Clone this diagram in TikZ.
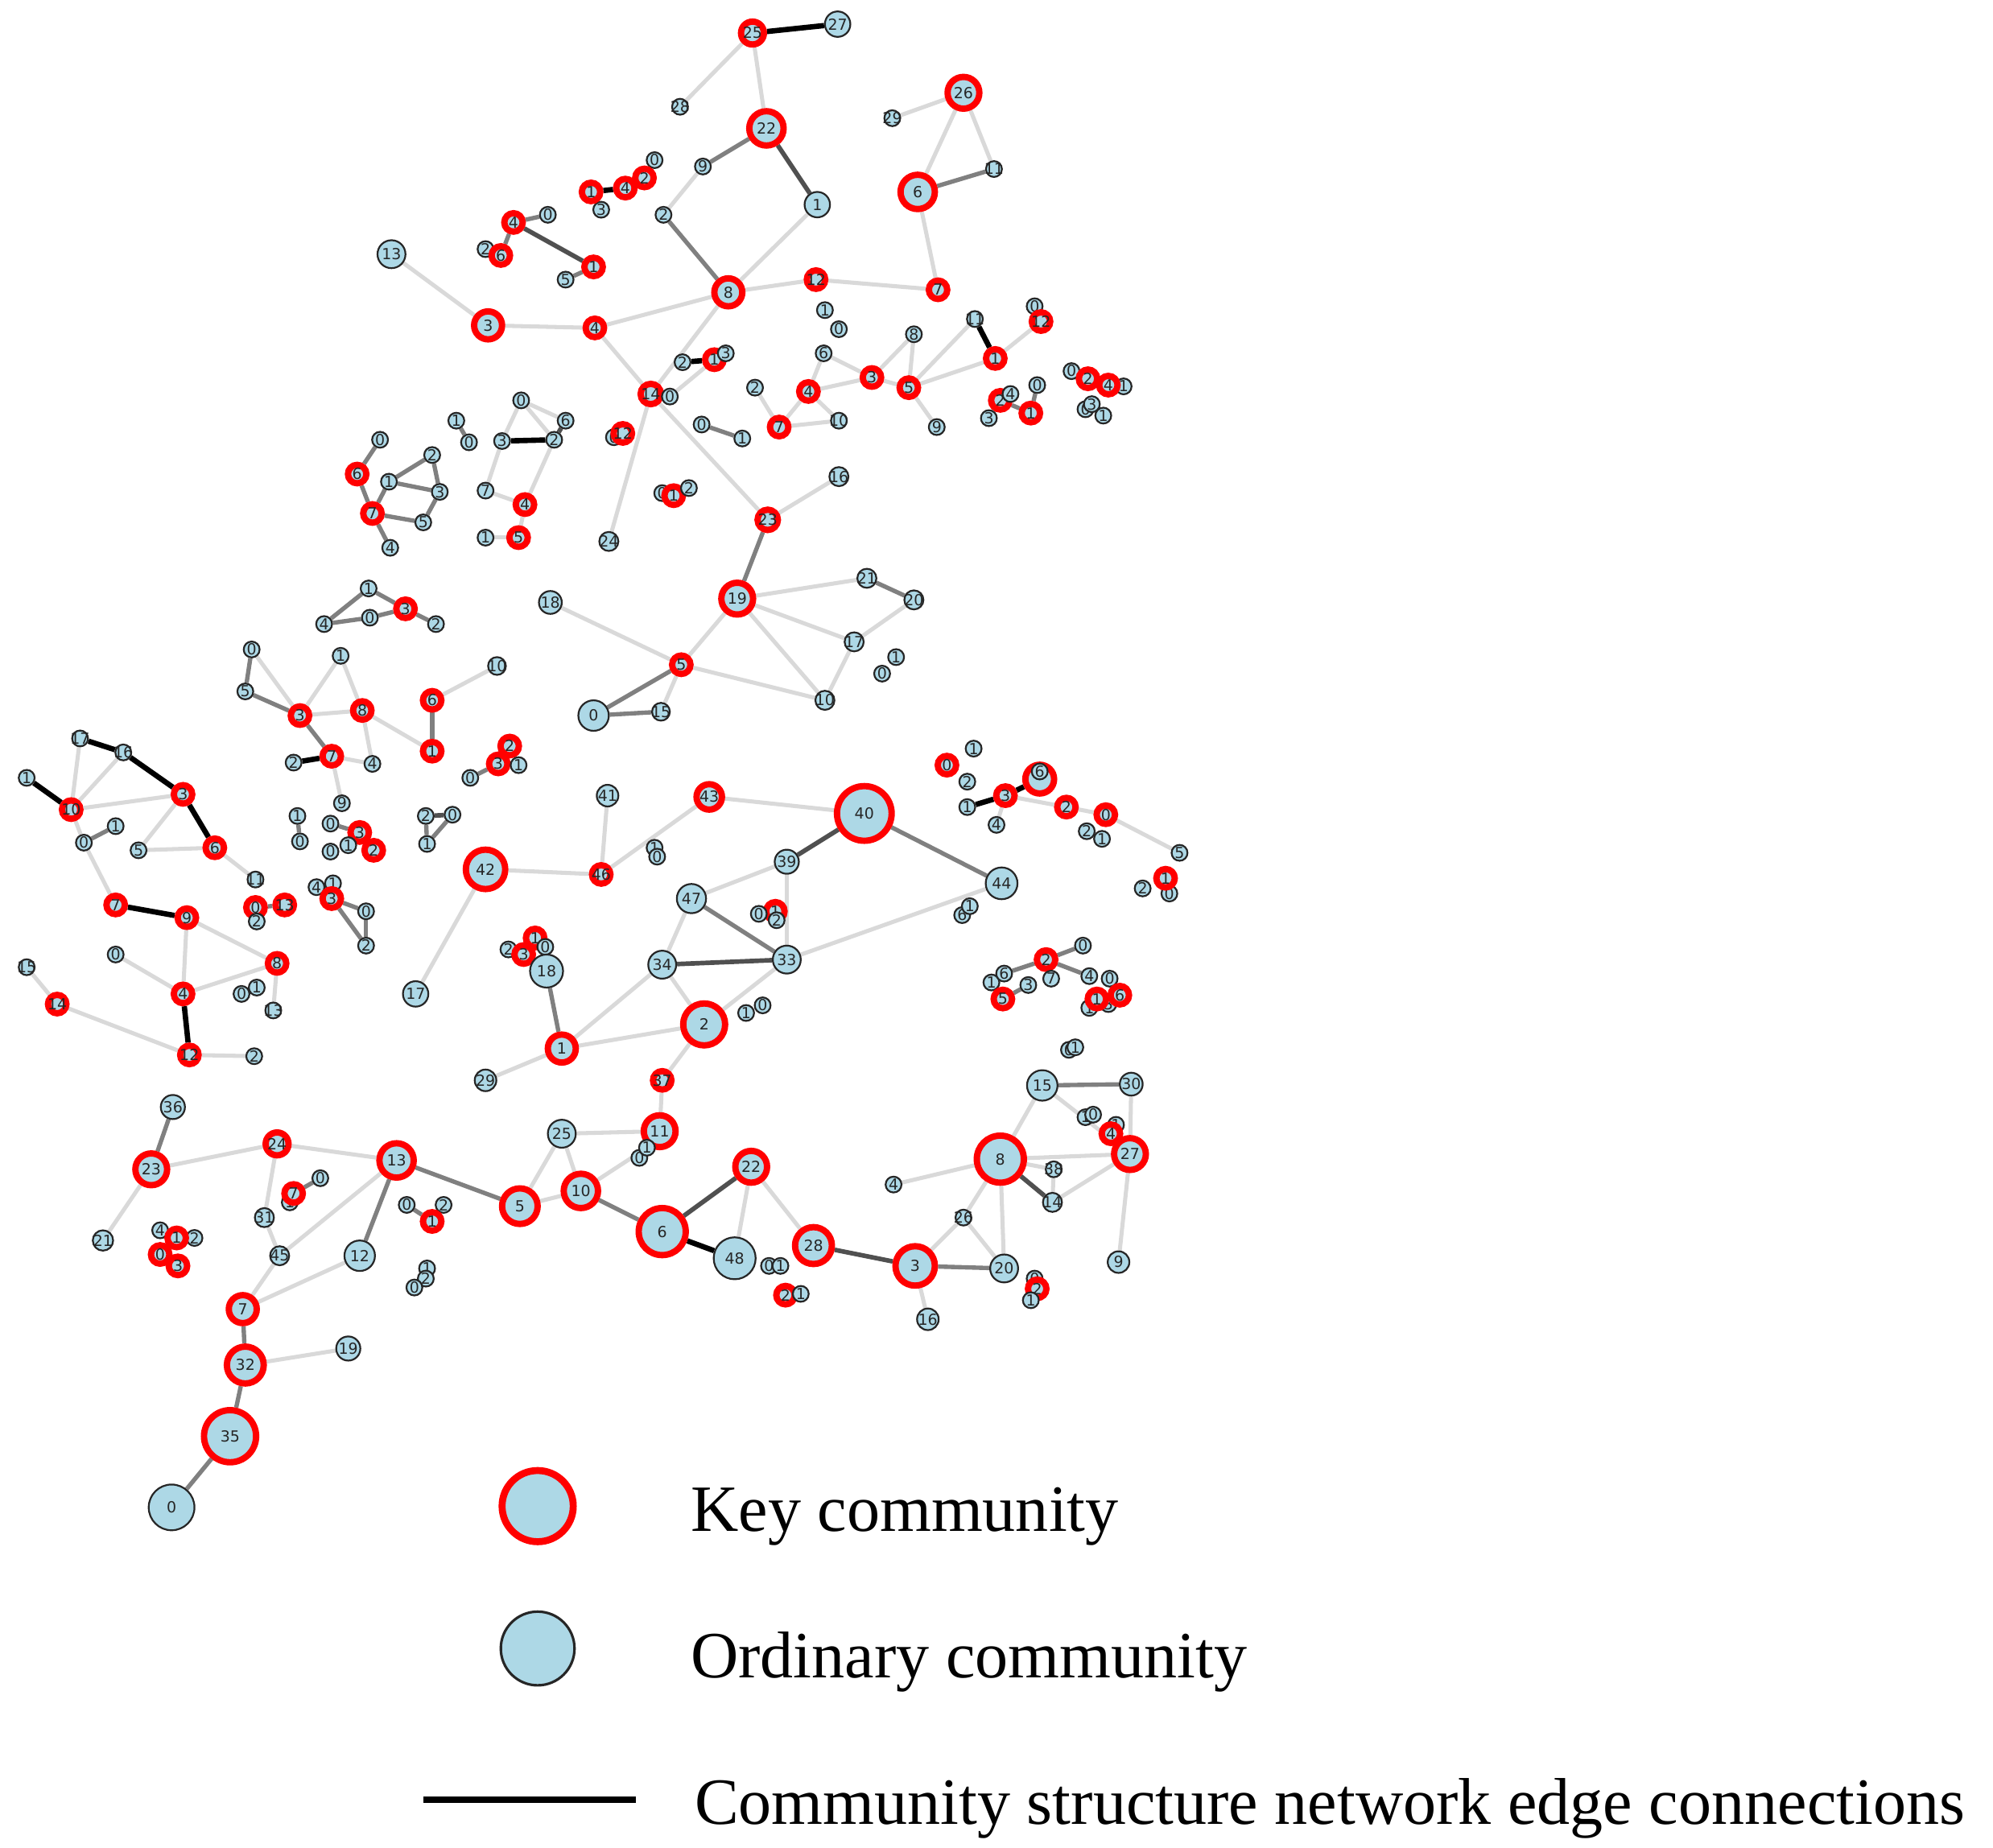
\documentclass[tikz,border=0pt]{standalone}
\usepackage{fontspec}
\setmainfont{Liberation Serif}
\newfontfamily\nodefamily{DejaVu Sans}
\usepackage{tikz}
\usetikzlibrary{backgrounds}
\definecolor{nodeblue}{RGB}{173,216,230}
\definecolor{keyred}{RGB}{255,0,0}
\definecolor{edgelight}{RGB}{217,217,217}
\definecolor{edgemid}{RGB}{128,128,128}
\definecolor{edgedark}{RGB}{80,80,80}

\begin{document}
\begin{tikzpicture}[
  x=1pt, y=-1pt,
  every node/.style={font=\nodefamily\fontsize{12}{12}\selectfont, text=black!85},
  comm/.style={circle, fill=nodeblue, inner sep=-8pt, minimum size=#1},
  keycomm/.style={comm=#1, draw=keyred, line width=5pt},
  keycomm/.default=14.5,
  ordcomm/.style={comm=#1, draw=black!85, line width=1.4pt},
  ordcomm/.default=12.5,
  lightedge/.style={draw=edgelight, line width=3.2pt},
  midedge/.style={draw=edgemid, line width=3.4pt},
  darkedge/.style={draw=edgedark, line width=3.6pt},
  blackedge/.style={draw=black, line width=4.2pt},
  legendtext/.style={font=\rmfamily\fontsize{52}{60}\selectfont, text=black, anchor=base west}
]
\useasboundingbox (0,0) rectangle (1568,1454);

% upper tree
\node[keycomm=18] (a25) at (592,26) {25};
\node[ordcomm=20] (a27) at (659,19) {27};
\node[ordcomm] (a28) at (535,84) {28};
\node[keycomm=27] (a22) at (603,101) {22};
\node[ordcomm] (a9) at (553,131) {9};
\node[ordcomm] (a2) at (522,169) {2};
\node[ordcomm=20] (a1) at (643,161) {1};
\node[keycomm=22] (a8) at (573,230) {8};
\node[keycomm] (a12) at (642,220) {12};
\node[keycomm] (a7) at (738,228) {7};
\node[keycomm=27] (a6) at (722,151) {6};
\node[keycomm=25] (a26) at (758,73) {26};
\node[ordcomm] (a29) at (702,93) {29};
\node[ordcomm] (a11) at (782,133) {11};
\node[ordcomm=22] (a13) at (308,200) {13};
\node[keycomm=22] (a3) at (384,256) {3};
\node[keycomm] (a4) at (468,258) {4};
\node[keycomm=16] (a14) at (512,310) {14};
\node[ordcomm] (a0) at (527,312) {0};
\node[ordcomm=15] (a24) at (479,426) {24};
\node[keycomm=16] (a23) at (604,409) {23};
\node[ordcomm=15] (a16) at (660,375) {16};
\node[keycomm=25] (a19) at (580,471) {19};
\node[ordcomm=18] (a18) at (433,474) {18};
\node[keycomm] (a5) at (536,523) {5};
\node[ordcomm=24] (a0b) at (467,563) {0};
\node[ordcomm=14] (a15) at (520,560) {15};
\node[ordcomm=15] (a21) at (682,455) {21};
\node[ordcomm=15] (a20) at (719,472) {20};
\node[ordcomm=15] (a17) at (672,505) {17};
\node[ordcomm] (a1c) at (705,517) {1};
\node[ordcomm] (a0c) at (694,530) {0};
\node[ordcomm=15] (a10) at (649,551) {10};
\node[ordcomm] (a2b) at (537,285) {2};
\node[keycomm] (a1b) at (562,283) {1};
\node[ordcomm] (a3b) at (571,278) {3};

% small groups, top
\node[ordcomm] (b3) at (473,165) {3};
\node[keycomm] (b1) at (465,151) {1};
\node[ordcomm] (b0) at (515,126) {0};
\node[keycomm] (b4) at (492,148) {4};
\node[keycomm] (b2) at (507,140) {2};

\node[ordcomm] (c0) at (431,169) {0};
\node[keycomm] (c4) at (404,175) {4};
\node[ordcomm] (c2) at (382,196) {2};
\node[keycomm] (c6) at (394,201) {6};
\node[keycomm] (c1) at (467,210) {1};
\node[ordcomm] (c5) at (445,220) {5};

\node[ordcomm] (d1) at (649,244) {1};
\node[ordcomm] (d0) at (660,259) {0};
\node[ordcomm] (d8) at (719,263) {8};
\node[ordcomm] (d6) at (648,278) {6};
\node[keycomm] (d3) at (686,297) {3};
\node[keycomm] (d5) at (715,305) {5};
\node[keycomm] (d4) at (636,308) {4};
\node[ordcomm] (d2) at (594,305) {2};
\node[keycomm] (d7) at (613,336) {7};
\node[ordcomm] (d10) at (660,331) {10};
\node[ordcomm] (d9) at (737,336) {9};
\node[ordcomm] (d1b) at (767,251) {11};
\node[ordcomm] (d0b) at (814,241) {0};
\node[keycomm] (d12) at (819,253) {12};
\node[keycomm] (d1c) at (783,282) {1};

\node[keycomm] (e2) at (787,315) {2};
\node[ordcomm] (e4) at (795,310) {4};
\node[ordcomm] (e3) at (778,329) {3};
\node[ordcomm] (e0) at (816,303) {0};
\node[keycomm] (e1) at (811,325) {1};

\node[ordcomm] (f0) at (843,292) {0};
\node[keycomm] (f2) at (856,298) {2};
\node[ordcomm] (f1) at (884,304) {1};
\node[keycomm] (f4) at (872,303) {4};
\node[ordcomm] (f0b) at (854,322) {0};
\node[ordcomm] (f3) at (859,318) {3};
\node[ordcomm] (f1b) at (868,327) {1};

\node[ordcomm] (g0) at (299,346) {0};
\node[keycomm] (g6) at (281,373) {6};
\node[ordcomm] (g1) at (306,379) {1};
\node[keycomm] (g7) at (293,404) {7};
\node[ordcomm] (g4) at (307,431) {4};
\node[ordcomm] (g2) at (340,358) {2};
\node[ordcomm] (g3) at (346,387) {3};
\node[ordcomm] (g5) at (333,411) {5};

\node[ordcomm] (h1) at (359,331) {1};
\node[ordcomm] (h0) at (369,348) {0};
\node[ordcomm] (h0b) at (410,315) {0};
\node[ordcomm] (h6) at (445,331) {6};
\node[ordcomm] (h3) at (395,347) {3};
\node[ordcomm] (h2) at (436,346) {2};
\node[ordcomm] (h7) at (382,386) {7};
\node[keycomm] (h4) at (413,397) {4};
\node[ordcomm] (h1b) at (382,423) {1};
\node[keycomm] (h5) at (408,423) {5};

\node[ordcomm] (i0) at (483,344) {0};
\node[keycomm] (i12) at (490,341) {12};
\node[ordcomm] (j0) at (552,334) {0};
\node[ordcomm] (j1) at (584,345) {1};
\node[ordcomm] (k0) at (521,388) {0};
\node[keycomm] (k1) at (530,390) {1};
\node[ordcomm] (k2) at (542,384) {2};

% left side
\node[ordcomm] (l1) at (290,463) {1};
\node[ordcomm] (l4) at (255,491) {4};
\node[ordcomm] (l0) at (291,486) {0};
\node[keycomm] (l3) at (319,479) {3};
\node[ordcomm] (l2) at (343,491) {2};

\node[ordcomm] (m0) at (198,511) {0};
\node[ordcomm] (m5) at (193,544) {5};
\node[keycomm] (m3) at (236,563) {3};
\node[ordcomm] (m1) at (268,516) {1};
\node[keycomm] (m8) at (285,559) {8};
\node[ordcomm] (m2) at (231,600) {2};
\node[keycomm] (m7) at (261,595) {7};
\node[ordcomm] (m4) at (293,601) {4};
\node[ordcomm] (m9) at (269,632) {9};

\node[ordcomm=14] (n10) at (391,524) {10};
\node[keycomm] (n6) at (340,551) {6};
\node[keycomm] (n1) at (340,591) {1};

\node[keycomm] (o2) at (401,587) {2};
\node[keycomm] (o3) at (392,601) {3};
\node[ordcomm] (o1) at (408,602) {1};
\node[ordcomm] (o0) at (370,612) {0};

\node[ordcomm] (p2) at (335,642) {2};
\node[ordcomm] (p0) at (356,641) {0};
\node[ordcomm] (p1) at (336,664) {1};

\node[ordcomm] (q1) at (234,642) {1};
\node[ordcomm] (q0) at (236,662) {0};
\node[ordcomm] (q0b) at (260,648) {0};
\node[keycomm] (q3) at (283,655) {3};
\node[ordcomm] (q1b) at (274,665) {1};
\node[keycomm] (q12) at (294,669) {2};
\node[ordcomm] (q0c) at (260,670) {0};

\node[ordcomm] (r4) at (249,698) {4};
\node[ordcomm] (r1) at (262,695) {1};
\node[keycomm] (r3) at (261,707) {3};
\node[ordcomm] (r0) at (288,717) {0};
\node[ordcomm] (r2) at (288,744) {2};

\node[ordcomm] (s17) at (63,581) {17};
\node[ordcomm] (s16) at (97,592) {16};
\node[ordcomm] (s1) at (21,612) {1};
\node[keycomm] (s10) at (56,637) {10};
\node[keycomm] (s3) at (144,625) {3};
\node[ordcomm] (s0) at (66,663) {0};
\node[ordcomm] (s1b) at (91,650) {1};
\node[ordcomm] (s5) at (109,669) {5};
\node[keycomm] (s6) at (169,667) {6};
\node[ordcomm] (s11) at (201,692) {11};
\node[keycomm] (s7) at (91,712) {7};
\node[keycomm] (s9) at (147,722) {9};
\node[keycomm] (s0b) at (201,714) {0};
\node[ordcomm] (s2) at (202,725) {2};
\node[keycomm] (s13) at (224,712) {13};
\node[ordcomm] (s0c) at (91,751) {0};
\node[ordcomm] (s15) at (21,761) {15};
\node[keycomm] (s14) at (45,790) {14};
\node[keycomm] (s4) at (144,782) {4};
\node[keycomm] (s8) at (218,758) {8};
\node[ordcomm] (s0d) at (190,782) {0};
\node[ordcomm] (s1c) at (202,777) {1};
\node[ordcomm] (s13b) at (215,795) {13};
\node[keycomm] (s12) at (149,830) {12};
\node[ordcomm] (s2b) at (200,831) {2};

% centre
\node[ordcomm=17] (t41) at (478,626) {41};
\node[keycomm=20] (t43) at (558,627) {43};
\node[keycomm=31] (t42) at (382,684) {42};
\node[keycomm] (t46) at (473,688) {46};
\node[ordcomm=20] (t17) at (327,782) {17};
\node[ordcomm] (t1) at (515,667) {1};
\node[ordcomm] (t0) at (517,674) {0};
\node[ordcomm=19] (t39) at (619,678) {39};
\node[ordcomm=23] (t47) at (544,707) {47};
\node[keycomm] (t1k) at (610,717) {1};
\node[ordcomm] (t0b) at (597,719) {0};
\node[ordcomm] (t2) at (611,724) {2};
\node[ordcomm=22] (t34) at (521,759) {34};
\node[ordcomm=22] (t33) at (619,755) {33};
\node[keycomm=43] (t40) at (680,640) {40};
\node[ordcomm=25] (t44) at (788,695) {44};
\node[ordcomm] (t6) at (757,720) {6};
\node[ordcomm] (t1b) at (763,713) {1};
\node[ordcomm] (t2c) at (400,747) {2};
\node[keycomm] (t1c) at (421,738) {1};
\node[ordcomm] (t0c) at (429,745) {0};
\node[keycomm] (t3) at (412,751) {3};
\node[ordcomm=26] (t18) at (430,764) {18};
\node[keycomm=22] (t1d) at (442,825) {1};
\node[keycomm=33] (t2k) at (554,806) {2};
\node[ordcomm] (t1e) at (587,797) {1};
\node[ordcomm] (t0e) at (600,791) {0};
\node[ordcomm=17] (t29) at (382,850) {29};
\node[keycomm] (t37) at (521,850) {37};
\node[keycomm=25] (t11) at (519,890) {11};
\node[ordcomm=22] (t25) at (442,892) {25};

% right side
\node[keycomm] (u0) at (745,602) {0};
\node[ordcomm] (u1) at (766,589) {1};
\node[ordcomm] (u2) at (761,615) {2};
\node[keycomm] (u3) at (791,626) {3};
\node[ordcomm] (u1b) at (761,635) {1};
\node[ordcomm] (u4) at (784,649) {4};
\node[keycomm] (u6k) at (818,613) {};
\node[ordcomm] (u6) at (818,607) {6};
\node[keycomm] (u2k) at (839,635) {2};
\node[ordcomm] (u2b) at (855,654) {2};
\node[ordcomm] (u1c) at (867,660) {1};
\node[keycomm] (u0k) at (870,641) {0};
\node[ordcomm] (u5) at (928,671) {5};
\node[ordcomm] (u2c) at (899,699) {2};
\node[ordcomm] (u0c) at (920,703) {0};
\node[keycomm] (u1k) at (917,691) {1};

\node[ordcomm] (v0) at (852,744) {0};
\node[keycomm] (v2) at (823,755) {2};
\node[ordcomm] (v1) at (780,773) {1};
\node[ordcomm] (v6) at (790,766) {6};
\node[ordcomm] (v3) at (809,775) {3};
\node[ordcomm] (v7) at (827,770) {7};
\node[keycomm] (v5) at (789,786) {5};
\node[ordcomm] (v4) at (857,768) {4};
\node[ordcomm] (v0b) at (873,770) {0};
\node[ordcomm] (vb1) at (857,793) {1};
\node[ordcomm] (vb2) at (872,790) {3};
\node[keycomm] (v1k) at (863,786) {1};
\node[keycomm] (v6k) at (881,783) {6};

\node[ordcomm] (w0) at (841,826) {0};
\node[ordcomm] (w1) at (846,824) {1};
\node[ordcomm=24] (w15) at (820,854) {15};
\node[ordcomm=18] (w30) at (890,853) {30};
\node[ordcomm] (w1b) at (854,879) {1};
\node[ordcomm] (w0b) at (860,877) {0};
\node[ordcomm] (w1c) at (878,885) {1};
\node[keycomm] (w4) at (874,892) {4};
\node[keycomm=37] (w8) at (787,912) {8};
\node[keycomm=25] (w27) at (889,908) {27};
\node[ordcomm] (w38) at (829,920) {38};
\node[ordcomm=15] (w14) at (828,946) {14};
\node[ordcomm] (w4b) at (703,932) {4};
\node[ordcomm] (w26) at (758,958) {26};
\node[ordcomm=22] (w20) at (790,998) {20};
\node[keycomm=31] (w3) at (720,996) {3};
\node[keycomm=29] (w28) at (640,980) {28};
\node[ordcomm=17] (w9) at (880,993) {9};
\node[ordcomm=17] (w16) at (730,1038) {16};
\node[ordcomm] (w0d) at (814,1006) {0};
\node[keycomm] (w2k) at (816,1014) {2};
\node[ordcomm] (w1d) at (811,1023) {1};

% lower chain
\node[ordcomm] (x0) at (503,911) {0};
\node[ordcomm] (x1) at (509,903) {1};
\node[keycomm=25] (x22) at (591,918) {22};
\node[keycomm=28] (x5) at (409,949) {5};
\node[keycomm=27] (x10) at (457,937) {10};
\node[keycomm=37] (x6) at (521,969) {6};
\node[ordcomm=33] (x48) at (578,990) {48};
\node[ordcomm] (x0b) at (605,996) {0};
\node[ordcomm] (x1b) at (614,996) {1};
\node[keycomm] (x2k) at (618,1019) {2};
\node[ordcomm] (x1c) at (630,1018) {1};
\node[ordcomm] (x0c) at (320,948) {0};
\node[ordcomm] (x2c) at (349,948) {2};
\node[keycomm] (x1k) at (340,961) {1};
\node[ordcomm] (x1d) at (336,998) {1};
\node[ordcomm] (x2d) at (335,1006) {2};
\node[ordcomm] (x0d) at (326,1013) {0};

\node[ordcomm=19] (y36) at (136,871) {36};
\node[keycomm=25] (y23) at (119,920) {23};
\node[keycomm=18] (y24) at (218,900) {24};
\node[keycomm=27] (y13) at (312,913) {13};
\node[ordcomm=16] (y21) at (81,976) {21};
\node[ordcomm=15] (y31) at (208,958) {31};
\node[ordcomm] (y0) at (252,927) {0};
\node[ordcomm] (y1) at (228,946) {1};
\node[keycomm] (y7k) at (231,939) {7};
\node[ordcomm=15] (y45) at (220,988) {45};
\node[ordcomm=24] (y12) at (283,988) {12};
\node[keycomm=22] (y7) at (191,1030) {7};
\node[ordcomm=19] (y19) at (274,1061) {19};
\node[keycomm=29] (y32) at (193,1074) {32};
\node[keycomm=41] (y35) at (181,1130) {35};
\node[ordcomm=36] (y0b) at (135,1186) {0};
\node[ordcomm] (y4) at (126,968) {4};
\node[ordcomm] (y2) at (153,974) {2};
\node[keycomm] (y1k) at (139,974) {1};
\node[keycomm] (y0k) at (126,987) {0};
\node[keycomm] (y3k) at (140,996) {3};

% legend
\node[keycomm=56, line width=5.5pt] (legkey) at (423,1185) {};
\node[ordcomm=58, line width=2pt] (legord) at (423,1297) {};
\node[legendtext] (legkeytext) at (540,1205) {Key community};
\node[legendtext] (legordtext) at (540,1320) {Ordinary community};
\node[legendtext] (legedgetext) at (543,1435) {Community structure network edge connections};
\coordinate (legedgeL) at (333,1416);
\coordinate (legedgeR) at (500,1416);
\draw[line width=5pt] (legedgeL) -- (legedgeR);

\begin{scope}[on background layer]
% upper tree
\draw[blackedge] (a25) -- (a27);
\draw[lightedge] (a25) -- (a28);
\draw[lightedge] (a25) -- (a22);
\draw[midedge] (a22) -- (a9);
\draw[lightedge] (a9) -- (a2);
\draw[darkedge] (a22) -- (a1);
\draw[midedge] (a2) -- (a8);
\draw[lightedge] (a8) -- (a1);
\draw[lightedge] (a8) -- (a12);
\draw[lightedge] (a12) -- (a7);
\draw[lightedge] (a7) -- (a6);
\draw[lightedge] (a6) -- (a26);
\draw[lightedge] (a26) -- (a29);
\draw[lightedge] (a26) -- (a11);
\draw[midedge] (a6) -- (a11);
\draw[lightedge] (a13) -- (a3);
\draw[lightedge] (a3) -- (a4);
\draw[lightedge] (a4) -- (a8);
\draw[lightedge] (a4) -- (a14);
\draw[lightedge] (a8) -- (a14);
\draw[lightedge] (a14) -- (a24);
\draw[lightedge] (a14) -- (a23);
\draw[lightedge] (a23) -- (a16);
\draw[midedge] (a23) -- (a19);
\draw[lightedge] (a19) -- (a5);
\draw[lightedge] (a18) -- (a5);
\draw[midedge] (a5) -- (a0b);
\draw[midedge] (a0b) -- (a15);
\draw[lightedge] (a5) -- (a15);
\draw[lightedge] (a5) -- (a10);
\draw[lightedge] (a19) -- (a21);
\draw[lightedge] (a19) -- (a17);
\draw[lightedge] (a19) -- (a10);
\draw[midedge] (a21) -- (a20);
\draw[lightedge] (a20) -- (a17);
\draw[lightedge] (a17) -- (a10);
\draw[blackedge] (a2b) -- (a1b);
\draw[lightedge] (a0) -- (a1b);
% small groups, top
\draw[blackedge] (b1) -- (b4);
\draw[midedge] (c4) -- (c0);
\draw[midedge] (c4) -- (c6);
\draw[darkedge] (c4) -- (c1);
\draw[midedge] (c1) -- (c5);
\draw[lightedge] (d6) -- (d3);
\draw[lightedge] (d6) -- (d4);
\draw[lightedge] (d4) -- (d3);
\draw[lightedge] (d3) -- (d8);
\draw[lightedge] (d3) -- (d5);
\draw[lightedge] (d8) -- (d5);
\draw[lightedge] (d5) -- (d9);
\draw[lightedge] (d5) -- (d1b);
\draw[lightedge] (d5) -- (d1c);
\draw[blackedge] (d1b) -- (d1c);
\draw[lightedge] (d1c) -- (d12);
\draw[lightedge] (d4) -- (d10);
\draw[lightedge] (d7) -- (d10);
\draw[lightedge] (d7) -- (d4);
\draw[lightedge] (d2) -- (d7);
\draw[midedge] (e2) -- (e1);
\draw[midedge] (e0) -- (e1);
\draw[midedge] (g0) -- (g6);
\draw[midedge] (g6) -- (g7);
\draw[midedge] (g1) -- (g7);
\draw[midedge] (g7) -- (g5);
\draw[midedge] (g7) -- (g4);
\draw[midedge] (g1) -- (g2);
\draw[midedge] (g1) -- (g3);
\draw[midedge] (g2) -- (g3);
\draw[midedge] (g3) -- (g5);
\draw[midedge] (h1) -- (h0);
\draw[blackedge] (h3) -- (h2);
\draw[lightedge] (h0b) -- (h3);
\draw[lightedge] (h0b) -- (h2);
\draw[lightedge] (h0b) -- (h6);
\draw[darkedge] (h6) -- (h2);
\draw[lightedge] (h3) -- (h7);
\draw[lightedge] (h7) -- (h4);
\draw[lightedge] (h2) -- (h4);
\draw[lightedge] (h4) -- (h5);
\draw[lightedge] (h1b) -- (h5);
\draw[midedge] (j0) -- (j1);
% left side
\draw[midedge] (l1) -- (l4);
\draw[midedge] (l4) -- (l0);
\draw[midedge] (l1) -- (l3);
\draw[midedge] (l0) -- (l3);
\draw[midedge] (l3) -- (l2);
\draw[midedge] (m0) -- (m5);
\draw[lightedge] (m0) -- (m3);
\draw[midedge] (m5) -- (m3);
\draw[lightedge] (m3) -- (m1);
\draw[lightedge] (m1) -- (m8);
\draw[lightedge] (m3) -- (m8);
\draw[midedge] (m3) -- (m7);
\draw[blackedge] (m7) -- (m2);
\draw[lightedge] (m7) -- (m4);
\draw[lightedge] (m8) -- (m4);
\draw[lightedge] (m8) -- (n1);
\draw[lightedge] (m7) -- (m9);
\draw[lightedge] (n6) -- (n10);
\draw[midedge] (n6) -- (n1);
\draw[midedge] (o0) -- (o3);
\draw[darkedge] (p2) -- (p0);
\draw[midedge] (p2) -- (p1);
\draw[midedge] (p0) -- (p1);
\draw[midedge] (q1) -- (q0);
\draw[midedge] (q0b) -- (q3);
\draw[darkedge] (q3) -- (q12);
\draw[midedge] (r3) -- (r0);
\draw[midedge] (r3) -- (r2);
\draw[midedge] (r0) -- (r2);
\draw[blackedge] (s17) -- (s16);
\draw[blackedge] (s16) -- (s3);
\draw[lightedge] (s17) -- (s10);
\draw[blackedge] (s1) -- (s10);
\draw[lightedge] (s10) -- (s16);
\draw[lightedge] (s10) -- (s3);
\draw[blackedge] (s3) -- (s6);
\draw[lightedge] (s3) -- (s5);
\draw[lightedge] (s5) -- (s6);
\draw[lightedge] (s6) -- (s11);
\draw[lightedge] (s10) -- (s0);
\draw[midedge] (s0) -- (s1b);
\draw[lightedge] (s0) -- (s7);
\draw[blackedge] (s7) -- (s9);
\draw[lightedge] (s9) -- (s8);
\draw[lightedge] (s9) -- (s4);
\draw[lightedge] (s0c) -- (s4);
\draw[lightedge] (s4) -- (s8);
\draw[blackedge] (s4) -- (s12);
\draw[lightedge] (s14) -- (s12);
\draw[lightedge] (s15) -- (s14);
\draw[lightedge] (s12) -- (s2b);
\draw[lightedge] (s8) -- (s13b);
\draw[midedge] (s0b) -- (s13);
% centre
\draw[lightedge] (t42) -- (t46);
\draw[lightedge] (t41) -- (t46);
\draw[lightedge] (t46) -- (t43);
\draw[lightedge] (t42) -- (t17);
\draw[lightedge] (t43) -- (t40);
\draw[midedge] (t18) -- (t1d);
\draw[lightedge] (t1d) -- (t29);
\draw[lightedge] (t1d) -- (t2k);
\draw[lightedge] (t1d) -- (t34);
\draw[lightedge] (t34) -- (t47);
\draw[lightedge] (t47) -- (t39);
\draw[midedge] (t47) -- (t33);
\draw[darkedge] (t34) -- (t33);
\draw[lightedge] (t34) -- (t2k);
\draw[lightedge] (t2k) -- (t33);
\draw[lightedge] (t39) -- (t33);
\draw[darkedge] (t39) -- (t40);
\draw[midedge] (t40) -- (t44);
\draw[lightedge] (t33) -- (t44);
\draw[lightedge] (t2k) -- (t37);
\draw[lightedge] (t37) -- (t11);
\draw[lightedge] (t25) -- (t11);
% right side
\draw[blackedge] (u1b) -- (u3);
\draw[blackedge] (u3) -- (u6k);
\draw[lightedge] (u3) -- (u2k);
\draw[lightedge] (u2k) -- (u0k);
\draw[lightedge] (u0k) -- (u5);
\draw[lightedge] (u3) -- (u4);
\draw[midedge] (v6) -- (v2);
\draw[midedge] (v2) -- (v0);
\draw[midedge] (v2) -- (v4);
\draw[midedge] (v5) -- (v3);
\draw[midedge] (w15) -- (w30);
\draw[lightedge] (w30) -- (w27);
\draw[lightedge] (w15) -- (w8);
\draw[lightedge] (w15) -- (w27);
\draw[lightedge] (w8) -- (w27);
\draw[lightedge] (w8) -- (w38);
\draw[darkedge] (w8) -- (w14);
\draw[lightedge] (w38) -- (w14);
\draw[lightedge] (w14) -- (w27);
\draw[lightedge] (w4b) -- (w8);
\draw[lightedge] (w8) -- (w26);
\draw[lightedge] (w8) -- (w20);
\draw[lightedge] (w26) -- (w3);
\draw[lightedge] (w26) -- (w20);
\draw[darkedge] (w28) -- (w3);
\draw[midedge] (w3) -- (w20);
\draw[lightedge] (w3) -- (w16);
\draw[lightedge] (w27) -- (w9);
% lower chain
\draw[midedge] (y13) -- (x5);
\draw[lightedge] (x5) -- (t25);
\draw[lightedge] (x5) -- (x10);
\draw[lightedge] (t25) -- (x10);
\draw[lightedge] (x10) -- (x1);
\draw[midedge] (x10) -- (x6);
\draw[darkedge] (x6) -- (x22);
\draw[blackedge] (x6) -- (x48);
\draw[lightedge] (x22) -- (x48);
\draw[lightedge] (x22) -- (w28);
\draw[midedge] (x0c) -- (x1k);
\draw[midedge] (y36) -- (y23);
\draw[lightedge] (y23) -- (y24);
\draw[lightedge] (y24) -- (y13);
\draw[lightedge] (y23) -- (y21);
\draw[lightedge] (y24) -- (y31);
\draw[lightedge] (y31) -- (y45);
\draw[lightedge] (y45) -- (y13);
\draw[lightedge] (y45) -- (y7);
\draw[midedge] (y13) -- (y12);
\draw[lightedge] (y12) -- (y7);
\draw[midedge] (y7) -- (y32);
\draw[lightedge] (y32) -- (y19);
\draw[midedge] (y32) -- (y35);
\draw[midedge] (y35) -- (y0b);
\draw[midedge] (y7k) -- (y0);
\end{scope}
\end{tikzpicture}
\end{document}
